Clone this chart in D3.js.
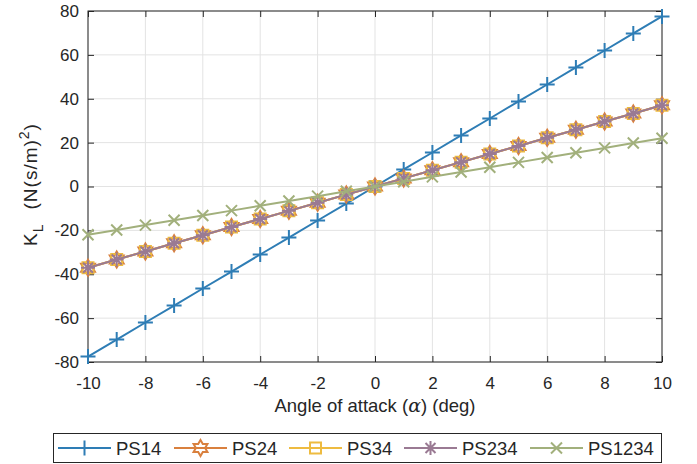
<!DOCTYPE html>
<html>
<head>
<meta charset="utf-8">
<script src="https://cdn.jsdelivr.net/npm/d3@7"></script>
<style>
  body { margin: 0; background: #fff; }
  text { font-family: "Liberation Sans", Arial, Helvetica, sans-serif; fill: #262626; }
</style>
</head>
<body>
<div id="chart"></div>
<script>
// data
const angles = [-10, -9, -8, -7, -6, -5, -4, -3, -2, -1, 0, 1, 2, 3, 4, 5, 6, 7, 8, 9, 10];
const ps14 = [-77.5, -69.8, -62, -54.3, -46.5, -38.8, -31, -23.3, -15.5, -7.8, 0, 7.8, 15.5, 23.3, 31, 38.8, 46.5, 54.3, 62, 69.8, 77.5];
const ps24 = [-37, -33.3, -29.6, -25.9, -22.2, -18.5, -14.8, -11.1, -7.4, -3.7, 0, 3.7, 7.4, 11.1, 14.8, 18.5, 22.2, 25.9, 29.6, 33.3, 37];
const ps34 = [-37, -33.3, -29.6, -25.9, -22.2, -18.5, -14.8, -11.1, -7.4, -3.7, 0, 3.7, 7.4, 11.1, 14.8, 18.5, 22.2, 25.9, 29.6, 33.3, 37];
const ps234 = [-37, -33.3, -29.6, -25.9, -22.2, -18.5, -14.8, -11.1, -7.4, -3.7, 0, 3.7, 7.4, 11.1, 14.8, 18.5, 22.2, 25.9, 29.6, 33.3, 37];
const ps1234 = [-22, -19.8, -17.6, -15.4, -13.2, -11, -8.8, -6.6, -4.4, -2.2, 0, 2.2, 4.4, 6.6, 8.8, 11, 13.2, 15.4, 17.6, 19.8, 22];
const xTicks = [-10, -8, -6, -4, -2, 0, 2, 4, 6, 8, 10];
const yTicks = [-80, -60, -40, -20, 0, 20, 40, 60, 80];

const series = [
  {name: "PS14", values: ps14, color: "#2e7db5", marker: "plus"},
  {name: "PS24", values: ps24, color: "#d9803e", marker: "hexagram"},
  {name: "PS34", values: ps34, color: "#eebb40", marker: "square"},
  {name: "PS234", values: ps234, color: "#9a7a93", marker: "asterisk"},
  {name: "PS1234", values: ps1234, color: "#a2b07c", marker: "cross"}
];

const W = 697, H = 464;
const m = {left: 88, right: 35, top: 11, bottom: 102};

const svg = d3.select("#chart").append("svg")
  .attr("width", W).attr("height", H);

const x = d3.scaleLinear().domain([-10, 10]).range([m.left, W - m.right]);
const y = d3.scaleLinear().domain([-80, 80]).range([H - m.bottom, m.top]);

// grid
const grid = svg.append("g");
grid.selectAll("line.gx").data(xTicks).join("line")
  .attr("x1", d => x(d)).attr("x2", d => x(d))
  .attr("y1", y(-80)).attr("y2", y(80))
  .attr("stroke", "#e3e3e3").attr("stroke-width", 1);
grid.selectAll("line.gy").data(yTicks).join("line")
  .attr("x1", x(-10)).attr("x2", x(10))
  .attr("y1", d => y(d)).attr("y2", d => y(d))
  .attr("stroke", "#e3e3e3").attr("stroke-width", 1);

// axes (ticks inward, box)
const tick = 6;
const fmt = d => String(d);
const axisStyle = g => {
  g.select(".domain").remove();
  g.selectAll(".tick line").attr("stroke", "#262626");
  g.selectAll(".tick text").style("font-size", "17px").attr("fill", "#262626");
};
svg.append("g").attr("transform", `translate(0,${y(-80)})`)
  .call(d3.axisBottom(x).tickValues(xTicks).tickSize(-tick).tickPadding(15).tickFormat(fmt))
  .call(axisStyle);
svg.append("g").attr("transform", `translate(0,${y(80)})`)
  .call(d3.axisTop(x).tickValues(xTicks).tickSize(-tick).tickFormat(""))
  .call(axisStyle);
svg.append("g").attr("transform", `translate(${x(-10)},0)`)
  .call(d3.axisLeft(y).tickValues(yTicks).tickSize(-tick).tickPadding(9).tickFormat(fmt))
  .call(axisStyle);
svg.append("g").attr("transform", `translate(${x(10)},0)`)
  .call(d3.axisRight(y).tickValues(yTicks).tickSize(-tick).tickFormat(""))
  .call(axisStyle);
svg.append("rect")
  .attr("x", x(-10)).attr("y", y(80))
  .attr("width", x(10) - x(-10)).attr("height", y(-80) - y(80))
  .attr("fill", "none").attr("stroke", "#262626").attr("stroke-width", 1);

// marker shapes
function markerPath(type) {
  const p = d3.path();
  if (type === "plus") {
    const r = 7.5;
    p.moveTo(-r, 0); p.lineTo(r, 0); p.moveTo(0, -r); p.lineTo(0, r);
  } else if (type === "cross") {
    const r = 5.5;
    p.moveTo(-r, -r); p.lineTo(r, r); p.moveTo(-r, r); p.lineTo(r, -r);
  } else if (type === "asterisk") {
    const r = 7, q = 5;
    p.moveTo(-r, 0); p.lineTo(r, 0); p.moveTo(0, -r); p.lineTo(0, r);
    p.moveTo(-q, -q); p.lineTo(q, q); p.moveTo(-q, q); p.lineTo(q, -q);
  } else if (type === "square") {
    const r = 5.5;
    p.rect(-r, -r, 2 * r, 2 * r);
  } else if (type === "hexagram") {
    const ro = 8, ri = ro / Math.sqrt(3);
    for (let i = 0; i < 12; i++) {
      const a = -Math.PI / 2 + i * Math.PI / 6;
      const rr = i % 2 === 0 ? ro : ri;
      if (i === 0) p.moveTo(rr * Math.cos(a), rr * Math.sin(a));
      else p.lineTo(rr * Math.cos(a), rr * Math.sin(a));
    }
    p.closePath();
  }
  return p.toString();
}

const line = d3.line().x((d, i) => x(angles[i])).y(d => y(d));

const plot = svg.append("g");
series.forEach(s => {
  const g = plot.append("g");
  g.append("path").datum(s.values)
    .attr("d", line)
    .attr("fill", "none").attr("stroke", s.color).attr("stroke-width", 2);
  g.selectAll("path.mk").data(s.values).join("path")
    .attr("class", "mk")
    .attr("transform", (d, i) => `translate(${x(angles[i])},${y(d)})`)
    .attr("d", markerPath(s.marker))
    .attr("fill", "none").attr("stroke", s.color).attr("stroke-width", 2);
});

// axis labels
svg.append("text")
  .attr("x", x(0)).attr("y", 412)
  .attr("text-anchor", "middle").style("font-size", "18.5px")
  .html('Angle of attack (<tspan font-family="DejaVu Serif" font-style="italic" font-size="19px">α</tspan>) (deg)');

const yl = svg.append("text")
  .attr("transform", `translate(37,${(y(80) + y(-80)) / 2 - 2}) rotate(-90)`)
  .attr("text-anchor", "middle").style("font-size", "19px")
  .style("letter-spacing", "1px");
yl.append("tspan").text("K");
yl.append("tspan").attr("dy", 6).style("font-size", "14px").text("L");
yl.append("tspan").attr("dy", -6).attr("dx", 14).text("(N(s/m)");
yl.append("tspan").attr("dy", -8).style("font-size", "14px").text("2");
yl.append("tspan").attr("dy", 8).text(")");

// legend
const legend = svg.append("g");
legend.append("rect")
  .attr("x", 53.5).attr("y", 433.5).attr("width", 608).attr("height", 29)
  .attr("fill", "#fff").attr("stroke", "#262626").attr("stroke-width", 1);
const legX = [58, 174, 289, 404, 530];
series.forEach((s, i) => {
  const g = legend.append("g").attr("transform", `translate(${legX[i]},448)`);
  g.append("line").attr("x1", 0).attr("x2", 53).attr("y1", 0).attr("y2", 0)
    .attr("stroke", s.color).attr("stroke-width", 2);
  g.append("path").attr("transform", "translate(26.5,0)")
    .attr("d", markerPath(s.marker))
    .attr("fill", "none").attr("stroke", s.color).attr("stroke-width", 2);
  g.append("text").attr("x", 58).attr("y", 7)
    .style("font-size", "18.5px").text(s.name);
});
</script>
</body>
</html>
